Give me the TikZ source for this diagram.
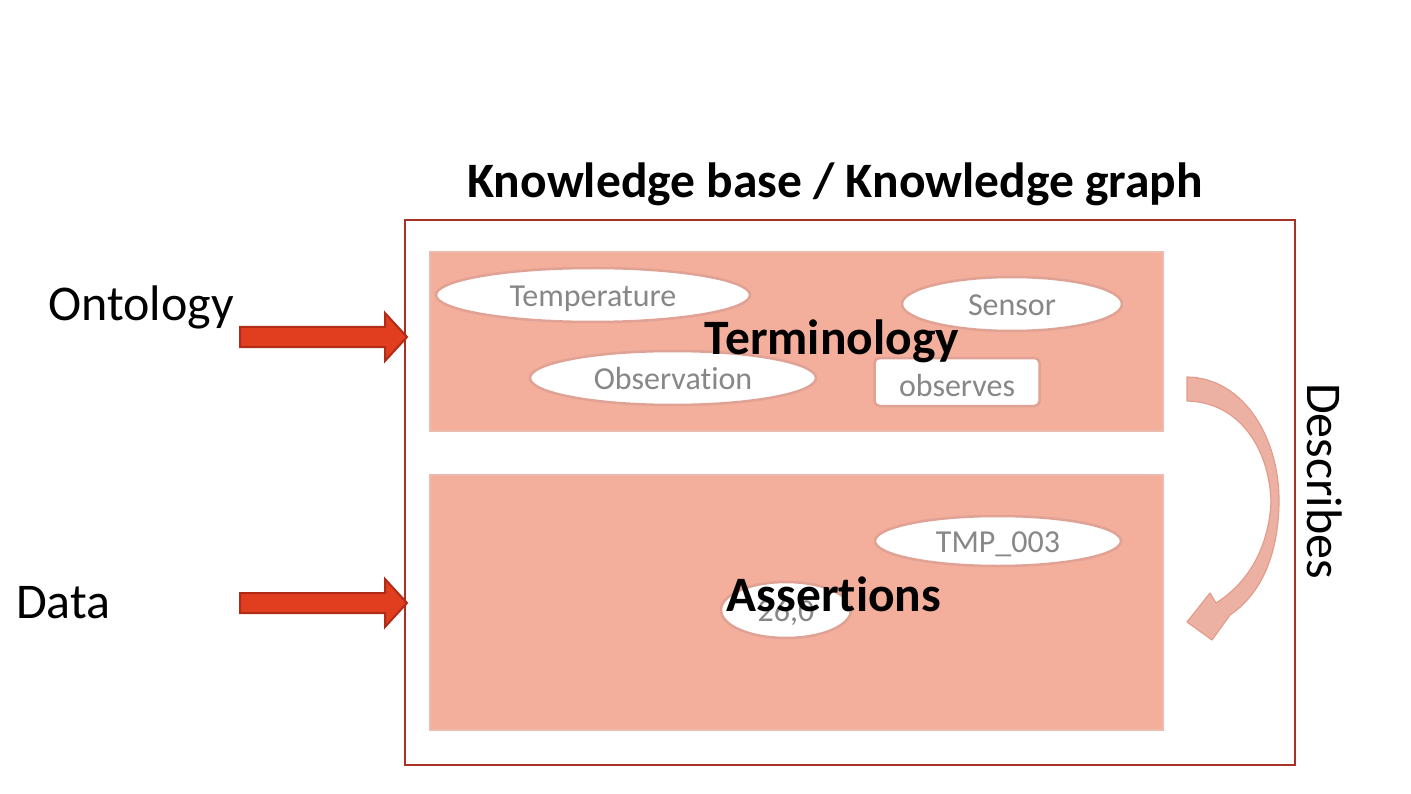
\documentclass[tikz,border=0pt]{standalone}
\usepackage{fontspec}
\setmainfont{Carlito}[Ligatures=NoCommon]
\usetikzlibrary{shapes.geometric}
\definecolor{boxred}{HTML}{A93226}
\definecolor{salmon}{HTML}{F4AE9C}
\definecolor{salmonedge}{HTML}{EDBBAE}
\definecolor{elledge}{HTML}{E0A294}
\definecolor{graytext}{HTML}{878787}
\definecolor{arrowfill}{HTML}{E03E1E}
\definecolor{arrowedge}{HTML}{B02C16}
\definecolor{curvefill}{HTML}{EBA99A}
\definecolor{curveedge}{HTML}{E29C8C}
\tikzset{
  layer/.style={draw=salmonedge, line width=1.5pt, fill=salmon},
  concept/.style={ellipse, draw=elledge, line width=2.5pt, fill=white, inner sep=0pt,
    text=graytext, font=\fontsize{32}{36}\selectfont, text height=23pt, text depth=0pt},
  relation/.style={rectangle, rounded corners=5pt, draw=elledge, line width=2.5pt, fill=white,
    inner sep=0pt, text=graytext, font=\fontsize{32}{36}\selectfont, text height=29pt, text depth=0pt},
  biglabel/.style={font=\fontsize{49.5}{56}\selectfont\bfseries, text=black, inner sep=0pt},
  sidelabel/.style={font=\fontsize{50}{58}\selectfont, text=black, inner sep=0pt},
  blockarrow/.style={fill=arrowfill, draw=arrowedge, line width=2pt, line join=miter}
}
\begin{document}
\begin{tikzpicture}[x=1pt,y=-1pt]
\useasboundingbox (0,0) rectangle (1411,794);
% outer box
\draw[boxred, line width=2pt] (405,220) rectangle (1295,765);
\node[biglabel] (title) at (835,184) {Knowledge base / Knowledge graph};
% layers
\draw[layer] (430,252) rectangle (1163,431);
\draw[layer] (430,475) rectangle (1163,730);
% concepts
\node[concept, minimum width=314pt, minimum height=54pt] (temp) at (593,295) {Temperature};
\node[concept, minimum width=220pt, minimum height=54pt] (sensor) at (1012,304) {Sensor};
\node[concept, minimum width=286pt, minimum height=54pt] (obs) at (673,378) {Observation};
\node[relation, minimum width=165pt, minimum height=48pt] (observes) at (957,382) {observes};
\node[concept, minimum width=246pt, minimum height=50pt] (tmp) at (998,541) {TMP\_003};
\node[concept, minimum width=130pt, minimum height=56pt] (val) at (786,610) {26,0};
% layer labels
\node[biglabel] (term) at (832,341) {Terminology};
\node[biglabel] (assert) at (834,594) {Assertions};
% side labels
\node[sidelabel, anchor=west] (onto) at (48,307) {Ontology};
\node[sidelabel, anchor=west] (data) at (16,603) {Data};
\node[sidelabel, rotate=-90] (desc) at (1325,481) {Describes};
% block arrows
\coordinate (ontoend) at (407,337);
\coordinate (dataend) at (407,603);
\foreach \c in {ontoend,dataend}{
  \draw[blockarrow] ([xshift=-167pt,yshift=-10pt]\c) -- ([xshift=-22pt,yshift=-10pt]\c)
    -- ([xshift=-22pt,yshift=-24pt]\c) -- (\c) -- ([xshift=-22pt,yshift=24pt]\c)
    -- ([xshift=-22pt,yshift=10pt]\c) -- ([xshift=-167pt,yshift=10pt]\c) -- cycle;
}
% curved describes arrow
\draw[fill=curvefill, draw=curveedge, line width=1.2pt, fill opacity=0.9, line join=round]
  (1187,377) .. controls (1245,378) and (1280,440) .. (1279,503)
  .. controls (1278,560) and (1258,596) .. (1230,615)
  -- (1212,640) -- (1187,622) -- (1210,593) -- (1216,603)
  .. controls (1245,585) and (1268,552) .. (1271,503)
  .. controls (1270,450) and (1240,402) .. (1187,401) -- cycle;
\end{tikzpicture}
\end{document}
